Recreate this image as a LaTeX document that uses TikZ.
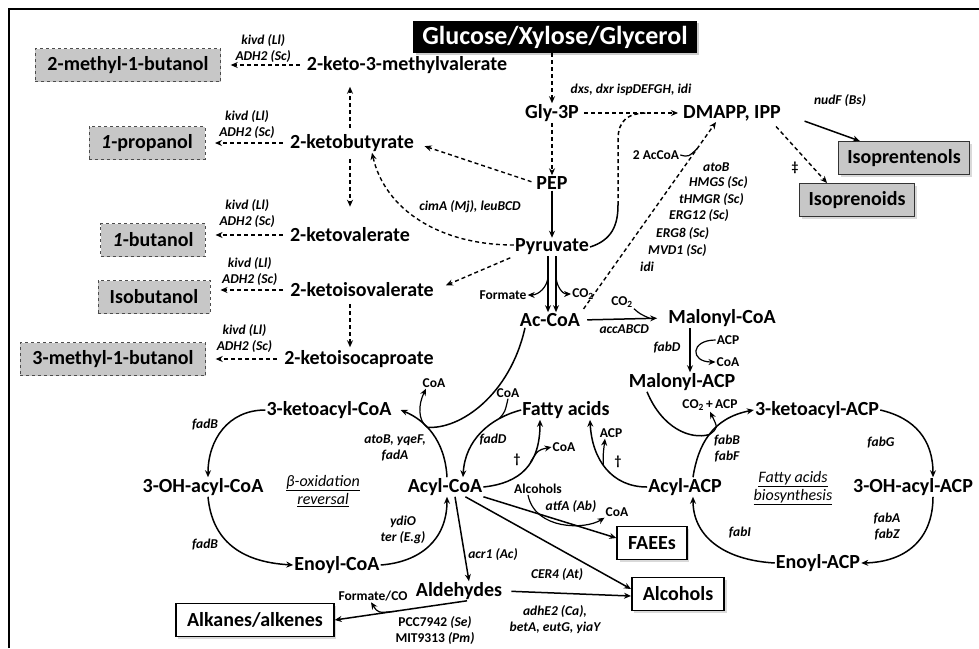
\documentclass[tikz,border=0pt]{standalone}
\usepackage{fontspec}
\setmainfont{Carlito}
\usepackage{tikz}
\usetikzlibrary{arrows.meta,shapes,positioning,shadows}

\begin{document}
\begin{tikzpicture}[x=1pt, y=-1pt,
    >={Stealth[length=7pt, width=6pt]},
    met/.style={font=\fontsize{20}{22}\selectfont\bfseries, inner sep=1pt},
    enz/.style={font=\fontsize{13.5}{16}\selectfont\bfseries\itshape, inner sep=1pt, align=center},
    sml/.style={font=\fontsize{13.5}{16}\selectfont\bfseries, inner sep=1pt},
    cyc/.style={font=\fontsize{16}{18}\selectfont\itshape, align=center},
    alcbox/.style={met, draw=black!70, fill=black!22, dashed, thin, minimum height=33pt, inner xsep=12pt},
    isobox/.style={met, draw=black!80, fill=black!22, line width=1pt, minimum height=33pt, inner xsep=9pt, drop shadow={opacity=0.3}},
    prodbox/.style={met, draw, fill=white, line width=1.6pt, minimum height=33pt, inner xsep=11pt, drop shadow={opacity=0.3}},
    rxn/.style={->, line width=1.5pt},
    drxn/.style={->, line width=1.4pt, dash pattern=on 4pt off 3pt},
    lnk/.style={line width=1.5pt},
    sub/.style={->, line width=1.2pt}]
  \useasboundingbox (0,0) rectangle (979,648);
  \draw[line width=1.2pt] (9,648) -- (9,9) -- (979,9); % frame

  % central pathway
  \node[fill=black, text=white, font=\fontsize{26}{28}\selectfont\bfseries, inner xsep=9pt, minimum height=32pt, drop shadow={opacity=0.4}] (sugar) at (555,37) {Glucose/Xylose/Glycerol};
  \node[met] (g3p) at (552,113) {Gly-3P};
  \node[met] (pep) at (552,183) {PEP};
  \node[met] (pyr) at (552,247) {Pyruvate};
  \node[met] (acoa) at (550,320) {Ac-CoA};
  \node[met] (dmapp) at (732,113) {DMAPP, IPP};
  \draw[drxn] (sugar.south -| g3p.north) -- (g3p.north);
  \draw[drxn] (g3p) -- (pep);
  \draw[rxn] (pep) -- (pyr);
  \draw[drxn, shorten <=4pt, shorten >=4pt] (g3p) -- node[enz, above=16pt] (dxs) {dxs, dxr ispDEFGH, idi} (dmapp);

  % isoprenoids
  \node[isobox] (iprent) at (904,158) {Isoprentenols};
  \node[isobox] (iprnd) at (857,200) {Isoprenoids};
  \draw[rxn, shorten <=24pt] (dmapp.east) -- ([xshift=22pt]iprent.north west);
  \node[enz] (nudf) at (840,101) {nudF (Bs)};
  \draw[drxn, shorten <=6pt] ([xshift=-10pt]dmapp.south east) -- ([xshift=28pt]iprnd.north west);
  \node[sml] (ddag) at (795,168) {\ddag};

  % mevalonate route
  \draw[drxn, shorten <=4pt] (acoa.north east) -- coordinate[pos=0.86] (mvain) ([xshift=34pt]dmapp.south west);
  \node[sml] (twoac) at (656,155) {2 AcCoA};
  \draw[lnk, line width=1.2pt] (twoac.east) .. controls +(8,2) .. (mvain);
  \node[enz, anchor=west] (atob) at (702,167) {atoB};
  \node[enz, anchor=west] (hmgs) at (688,183) {HMGS (Sc)};
  \node[enz, anchor=west] (hmgr) at (678,200) {tHMGR (Sc)};
  \node[enz, anchor=west] (erg12) at (668,216) {ERG12 (Sc)};
  \node[enz, anchor=west] (erg8) at (655,234) {ERG8 (Sc)};
  \node[enz, anchor=west] (mvd1) at (647,251) {MVD1 (Sc)};
  \node[enz, anchor=west] (idi) at (639,267) {idi};
  \coordinate (mvbend) at (618,205);
  \coordinate (mvjoin) at (648,113);
  \draw[lnk] (pyr.east) .. controls (612,240) and (618,225) .. (mvbend);
  \draw[lnk, dash pattern=on 4pt off 3pt] (mvbend) -- (618,140) .. controls (618,120) and (628,113) .. (mvjoin);

  % keto acids and alcohols
  \node[met] (kmv) at (407,65) {2-keto-3-methylvalerate};
  \node[alcbox] (mbut) at (128,65) {2-methyl-1-butanol};
  \node[met] (kbut) at (352,143) {2-ketobutyrate};
  \node[alcbox] (prop) at (147,143) {\textit{1}-propanol};
  \node[met] (kval) at (350,235) {2-ketovalerate};
  \node[alcbox] (but) at (153,240) {\textit{1}-butanol};
  \node[met] (kival) at (362,290) {2-ketoisovalerate};
  \node[alcbox] (ibut) at (154,297) {Isobutanol};
  \node[met] (kicap) at (359,359) {2-ketoisocaproate};
  \node[alcbox] (mbut3) at (113,359) {3-methyl-1-butanol};
  \draw[drxn, shorten <=6pt, shorten >=10pt] (kmv.west) -- node[enz, above=1pt] (kivd1) {kivd (Ll)\\ADH2 (Sc)} (kmv.west -| mbut.east);
  \draw[drxn, shorten <=6pt, shorten >=10pt] (kbut.west) -- node[enz, above=3pt] (kivd2) {kivd (Ll)\\ADH2 (Sc)} (kbut.west -| prop.east);
  \draw[drxn, shorten <=6pt, shorten >=10pt] (kval.west) -- node[enz, above=6pt] (kivd3) {kivd (Ll)\\ADH2 (Sc)} (kval.west -| but.east);
  \draw[drxn, shorten <=6pt, shorten >=10pt] (kival.west) -- node[enz, above=3pt] (kivd4) {kivd (Ll)\\ADH2 (Sc)} (kival.west -| ibut.east);
  \draw[drxn, shorten <=6pt, shorten >=10pt] (kicap.west) -- node[enz, above=5pt] (kivd5) {kivd (Ll)\\ADH2 (Sc)} (kicap.west -| mbut3.east);
  \draw[drxn, shorten <=5pt, shorten >=12pt] ([xshift=-2pt]kbut.north) -- ([xshift=-2pt]kbut.north |- kmv.south);
  \draw[drxn, shorten <=6pt, shorten >=20pt] ([xshift=-2pt]kbut.south) -- ([xshift=-2pt]kbut.south |- kval.north);
  \draw[drxn, shorten <=6pt, shorten >=2pt] ([xshift=-12pt]kival.south) -- ([xshift=-12pt]kival.south |- kicap.north);
  \draw[drxn, shorten <=4pt, shorten >=10pt] (pep.west) -- (kbut.east);
  \draw[drxn] ([yshift=2pt]pyr.west) .. controls (440,245) and (385,210) .. ([xshift=20pt]kbut.south);
  \node[enz] (cima) at (470,207) {cimA (Mj), leuBCD};
  \draw[drxn, shorten <=4pt, shorten >=12pt] (pyr.south west) -- (kival.east);

  % pyruvate to acetyl-CoA
  \draw[rxn] ([xshift=-4pt]pyr.south) -- coordinate[pos=0.35] (pflin) ([xshift=-4pt]pyr.south |- acoa.north);
  \draw[rxn] ([xshift=4pt]pyr.south) -- coordinate[pos=0.35] (pdhin) ([xshift=4pt]pyr.south |- acoa.north);
  \node[sml] (fmt) at (503,295) {Formate};
  \node[sml] (co2a) at (583,294) {CO\textsubscript{2}};
  \draw[sub] (pflin) to[out=-90, in=0] (fmt.east);
  \draw[sub] (pdhin) to[out=-90, in=180] (co2a.west);

  % malonyl
  \node[met] (malcoa) at (722,318) {Malonyl-CoA};
  \draw[rxn, shorten <=6pt, shorten >=10pt] (acoa.east) -- node[enz, below=4pt] (acc) {accABCD} coordinate[pos=0.8] (co2in) (malcoa.west);
  \node[sml] (co2b) at (622,302) {CO\textsubscript{2}};
  \draw[lnk, line width=1.2pt] (co2b.south east) .. controls (640,314) .. (co2in);
  \node[enz] (fabd) at (667,348) {fabD};
  \node[met] (malacp) at (682,382) {Malonyl-ACP};
  \draw[rxn] ([xshift=-32pt]malcoa.south) -- ([xshift=-32pt]malcoa.south |- malacp.north);
  \node[sml] (acp1) at (728,340) {ACP};
  \node[sml] (coa1) at (728,362) {CoA};
  \draw[sub] (acp1.west) .. controls (690,340) and (690,362) .. (coa1.west);

  % fatty acid biosynthesis
  \node[met] (kacp) at (817,410) {3-ketoacyl-ACP};
  \node[met] (ohacp) at (913,487) {3-OH-acyl-ACP};
  \node[met] (enacp) at (818,563) {Enoyl-ACP};
  \node[met] (acylacp) at (685,487) {Acyl-ACP};
  \node[cyc] (fasl) at (793,488) {\underline{Fatty acids}\\\underline{biosynthesis}};
  \draw[rxn] ([xshift=8pt]acylacp.north) .. controls (698,445) and (712,418) .. coordinate[pos=0.5] (kasin) (kacp.west);
  \draw[lnk] ([xshift=-35pt]malacp.south) .. controls (662,428) and (690,440) .. (kasin);
  \node[sml] (co2acp) at (710,405) {CO\textsubscript{2}\,+\,ACP};
  \draw[sub] (kasin) .. controls (718,428) .. (co2acp.south);
  \node[enz] (fabbf) at (727,449) {fabB\\fabF};
  \draw[rxn] (kacp.east) .. controls (915,418) and (933,440) .. ([xshift=20pt]ohacp.north);
  \node[enz] (fabg) at (881,443) {fabG};
  \draw[rxn] ([xshift=20pt]ohacp.south) .. controls (933,540) and (905,562) .. (enacp.east);
  \node[enz] (fabaz) at (887,527) {fabA\\fabZ};
  \draw[rxn] (enacp.west) .. controls (722,560) and (693,535) .. ([xshift=8pt]acylacp.south);
  \node[enz] (fabi) at (740,533) {fabI};

  % beta-oxidation reversal
  \node[met] (kacoa) at (329,410) {3-ketoacyl-CoA};
  \node[met] (ohcoa) at (203,487) {3-OH-acyl-CoA};
  \node[met] (encoa) at (337,565) {Enoyl-CoA};
  \node[met] (acylcoa) at (445,487) {Acyl-CoA};
  \node[cyc] (bolab) at (323,491) {\underline{β-oxidation}\\\underline{reversal}};
  \draw[rxn] (kacoa.west) .. controls (228,410) and (208,440) .. ([xshift=5pt]ohcoa.north);
  \node[enz] (fadb1) at (205,425) {fadB};
  \draw[rxn] ([xshift=5pt]ohcoa.south) .. controls (212,540) and (240,562) .. (encoa.west);
  \node[enz] (fadb2) at (205,545) {fadB};
  \draw[rxn] (encoa.east) .. controls (420,562) and (447,540) .. ([xshift=2pt]acylcoa.south);
  \node[enz] (ydio) at (403,530) {ydiO\\ter (E.g)};
  \draw[rxn] ([xshift=2pt]acylcoa.north) .. controls (445,440) and (425,420) .. coordinate[pos=0.6] (thlin) ([xshift=8pt]kacoa.east);
  \node[enz] (atob2) at (395,448) {atoB, yqeF,\\fadA};
  \draw[lnk] ([xshift=-25pt]acoa.south) .. controls (510,395) and (460,430) .. (thlin);
  \node[sml] (coa2) at (434,383) {CoA};
  \draw[sub] (thlin) .. controls (418,420) and (418,405) .. ([xshift=-8pt]coa2.south);

  % fatty acids, esters, aldehydes
  \node[met] (fa) at (566,410) {Fatty acids};
  \node[sml] (coa3) at (508,393) {CoA};
  \draw[rxn] (fa.west) .. controls (490,418) and (465,440) .. coordinate[pos=0.25] (fadin) ([xshift=18pt]acylcoa.north);
  \draw[lnk, line width=1.2pt] (coa3.south) .. controls (505,412) .. (fadin);
  \node[enz] (fadd) at (493,440) {fadD};
  \draw[rxn] (acylcoa.east) .. controls (520,483) and (540,465) .. coordinate[pos=0.6] (tesin) ([xshift=-26pt]fa.south);
  \node[sml] (coa4) at (564,447) {CoA};
  \draw[sub] (tesin) .. controls (538,450) .. (coa4.west);
  \node[sml] (dag1) at (517,460) {\dag};
  \draw[rxn] (acylacp.west) .. controls (612,487) and (592,460) .. coordinate[pos=0.55] (aasin) ([xshift=24pt]fa.south);
  \node[sml] (acp2) at (611,433) {ACP};
  \draw[sub] (aasin) .. controls (603,455) .. ([xshift=-6pt]acp2.south);
  \node[sml] (dag2) at (618,462) {\dag};
  \node[sml] (alcs) at (538,489) {Alcohols};
  \node[enz] (atfa) at (571,507) {atfA (Ab)};
  \node[sml] (coa5) at (617,512) {CoA};
  \node[prodbox] (faee) at (652,543) {FAEEs};
  \node[prodbox] (alc) at (678,594) {Alcohols};
  \draw[rxn] (acylcoa.south east) -- ([yshift=5pt]faee.west);
  \draw[rxn] ([xshift=-18pt]acylcoa.south east) -- ([yshift=5pt]alc.west);
  \node[enz] (cer4) at (557,575) {CER4 (At)};
  \draw[sub] ([xshift=-10pt]alcs.south) .. controls (535,530) and (585,530) .. (coa5.south west);
  \node[met] (ald) at (459,591) {Aldehydes};
  \draw[rxn] ([xshift=10pt]acylcoa.south) -- ([xshift=10pt]ald.north);
  \node[enz] (acr1) at (493,555) {acr1 (Ac)};
  \draw[rxn, shorten <=8pt] (ald.east) -- ([yshift=-2pt]alc.west);
  \node[enz] (adhe2) at (555,620) {adhE2 (Ca),\\betA, eutG, yiaY};
  \node[prodbox] (alk) at (255,620) {Alkanes/alkenes};
  \draw[rxn] ([xshift=8pt]ald.south) -- coordinate[pos=0.55] (adoin) (alk.east);
  \node[sml] (fco) at (373,596) {Formate/CO};
  \draw[sub] (adoin) .. controls (378,613) .. ([xshift=-2pt]fco.south);
  \node[sml, align=center] (pcc) at (435,631) {PCC7942 \textit{(Se)}\\MIT9313 \textit{(Pm)}};
\end{tikzpicture}
\end{document}
